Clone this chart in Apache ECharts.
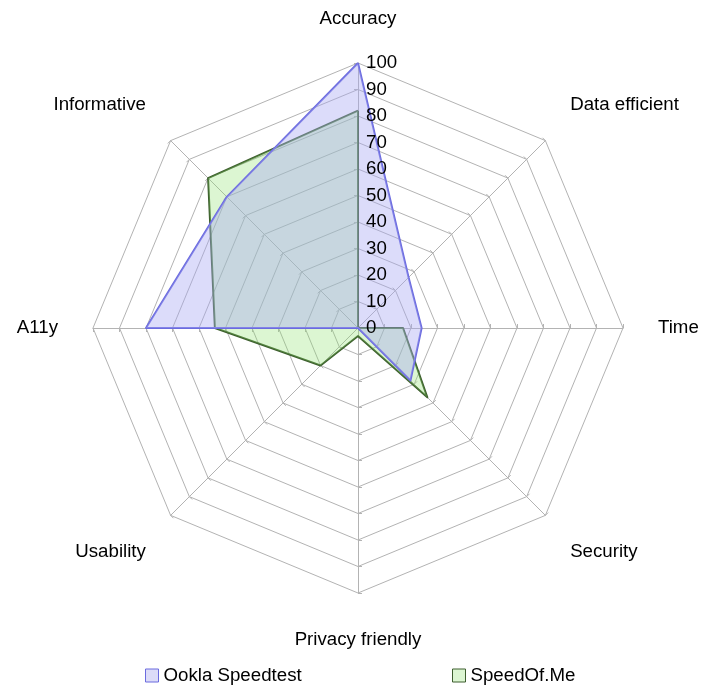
<!DOCTYPE html>
<html>
<head>
<meta charset="utf-8">
<script src="https://cdn.jsdelivr.net/npm/echarts@6/dist/echarts.min.js"></script>
<style>html,body{margin:0;padding:0;background:#fff}#c{width:720px;height:695px}</style>
</head>
<body>
<div id="c"></div>
<script>
// Categories in clockwise order starting at the top
const categories = ['Accuracy', 'Data efficient', 'Time', 'Security', 'Privacy friendly', 'Usability', 'A11y', 'Informative'];
const seriesNames = ['Ookla Speedtest', 'SpeedOf.Me'];
const ooklaValues = [100, 27, 24, 28, 0, 0, 80, 70];
const speedofmeValues = [82, 0, 17, 37, 3, 20, 54, 80];
const tickLabels = [0, 10, 20, 30, 40, 50, 60, 70, 80, 90, 100];

// ECharts radar places indicators counter-clockwise; reorder to draw clockwise
function ccw(arr) { return [arr[0]].concat(arr.slice(1).reverse()); }

const chart = echarts.init(document.getElementById('c'), null, {renderer: 'canvas'});
const font = 'Liberation Sans, Arial, sans-serif';
const fs = 18.7;
const cx = 358, cy = 328, R = 265;
const grey = '#b3b3b3';

const upperDiag = { 'Data efficient': 1, 'Informative': 1 };
const lowerDiag = { 'Security': 1, 'Usability': 1 };

chart.setOption({
  animation: false,
  backgroundColor: '#fff',
  radar: {
    center: [cx, cy],
    radius: R,
    startAngle: 90,
    shape: 'polygon',
    splitNumber: 10,
    nameGap: 35,
    axisName: {
      color: '#000', fontSize: fs, fontFamily: font,
      formatter: function (name) {
        if (upperDiag[name]) return '{up|' + name + '}';
        if (lowerDiag[name]) return '{dn|' + name + '}';
        if (name === 'Privacy friendly') return '{bt|' + name + '}';
        return '{n|' + name + '}';
      },
      rich: {
        n: { fontSize: fs, fontFamily: font, color: '#000' },
        up: { fontSize: fs, fontFamily: font, color: '#000', padding: [0, 0, 22, 0] },
        dn: { fontSize: fs, fontFamily: font, color: '#000', padding: [24, 0, 0, 0] },
        bt: { fontSize: fs, fontFamily: font, color: '#000', padding: [2, 0, 0, 0] }
      }
    },
    indicator: ccw(categories).map(n => ({ name: n, min: 0, max: tickLabels[tickLabels.length - 1] })),
    splitLine: { lineStyle: { color: grey, width: 1 } },
    splitArea: { show: false },
    axisLine: { lineStyle: { color: grey, width: 1 } },
    axisTick: { show: true, length: 4, lineStyle: { color: grey } },
    axisLabel: { show: false }
  },
  polar: { center: [cx, cy], radius: R },
  angleAxis: { type: 'value', startAngle: 90, min: 0, max: 360, show: false },
  radiusAxis: {
    type: 'value', min: tickLabels[0], max: tickLabels[tickLabels.length - 1], interval: 10,
    z: 20,
    axisLine: { show: false }, axisTick: { show: false }, splitLine: { show: false },
    axisLabel: { show: true, color: '#000', fontSize: fs, fontFamily: font, margin: -8, align: 'left', verticalAlign: 'middle' }
  },
  legend: [
    {
      left: 140, top: 661, itemWidth: 13, itemHeight: 13, itemGap: 5,
      textStyle: { fontSize: fs, fontFamily: font, color: '#000' },
      data: [{ name: seriesNames[0], icon: 'rect', itemStyle: { color: '#dcdcf8', borderColor: '#6b6bdf', borderWidth: 1 } }]
    },
    {
      left: 447, top: 661, itemWidth: 13, itemHeight: 13, itemGap: 5,
      textStyle: { fontSize: fs, fontFamily: font, color: '#000' },
      data: [{ name: seriesNames[1], icon: 'rect', itemStyle: { color: '#dcf6d2', borderColor: '#3d5e2e', borderWidth: 1 } }]
    }
  ],
  series: [
    {
      type: 'radar',
      name: seriesNames[1],
      symbol: 'none',
      z: 3,
      itemStyle: { color: '#3d5e2e' },
      lineStyle: { color: '#3d5e2e', width: 2 },
      areaStyle: { color: 'rgba(138,225,105,0.3)', opacity: 1 },
      data: [{ name: seriesNames[1], value: ccw(speedofmeValues) }]
    },
    {
      type: 'radar',
      name: seriesNames[0],
      symbol: 'none',
      z: 4,
      itemStyle: { color: '#6b6bdf' },
      lineStyle: { color: '#6b6bdf', width: 2 },
      areaStyle: { color: 'rgba(167,167,242,0.4)', opacity: 1 },
      data: [{ name: seriesNames[0], value: ccw(ooklaValues) }]
    }
  ]
});
</script>
</body>
</html>
